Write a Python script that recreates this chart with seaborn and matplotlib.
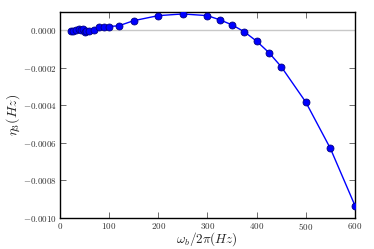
import matplotlib
matplotlib.use('Agg')
import matplotlib.pyplot as plt
import seaborn as sns
import pandas as pd

freq = [22, 27, 33, 38, 44, 47, 51, 54, 60, 70, 79, 89, 100, 120, 150, 200, 250,
        300, 325, 350, 375, 400, 425, 450, 500, 550, 600]
eta3 = [-0.000005, -0.000003, 0.000004, 0.000007, 0.000005, 0.000009, -0.000007,
        -0.000005, -0.000004, 0.000002, 0.000018, 0.00002, 0.000021, 0.000025,
        0.000052, 0.000079, 0.000088, 0.000079, 0.000057, 0.00003, -0.000007,
        -0.000057, -0.000118, -0.000193, -0.000382, -0.000629, -0.000934]

df = pd.DataFrame({'freq': freq, 'eta3': eta3})

sns.set_style('ticks')
plt.rcParams['font.family'] = ['DejaVu Serif']
plt.rcParams['mathtext.fontset'] = 'cm'

fig = plt.figure(figsize=(3.74, 2.49), dpi=100)
ax = fig.add_axes([0.16, 0.125, 0.789, 0.828])

ax.axhline(0, color='#c8c8c8', lw=1, zorder=1)
sns.lineplot(data=df, x='freq', y='eta3', ax=ax, color='blue', marker='o',
             markersize=5, markeredgecolor='#000080', markeredgewidth=0.6,
             lw=1, zorder=3)

ax.set_xlim(0, 600)
ax.set_ylim(-0.001, 0.0001)
ax.set_xticks([0, 100, 200, 300, 400, 500, 600])
ax.set_yticks([-0.001, -0.0008, -0.0006, -0.0004, -0.0002, 0.0])
ax.set_yticklabels(['$-0.0010$', '$-0.0008$', '$-0.0006$', '$-0.0004$', '$-0.0002$', '$0.0000$'])
ax.set_xticklabels(['$0$', '$100$', '$200$', '$300$', '$400$', '$500$', '$600$'])
ax.tick_params(direction='in', top=True, right=True, labelsize=6.5, length=4, width=0.6,
               pad=2, colors='#555555', labelcolor='#333333')
for s in ax.spines.values():
    s.set_linewidth(1)
    s.set_color('black')

ax.set_xlabel(r'$\omega_b/2\pi(Hz)$', fontsize=9.5, labelpad=-1)
ax.set_ylabel(r'$\eta_3(Hz)$', fontsize=10, labelpad=1)

fig.savefig('out.png', dpi=100)
